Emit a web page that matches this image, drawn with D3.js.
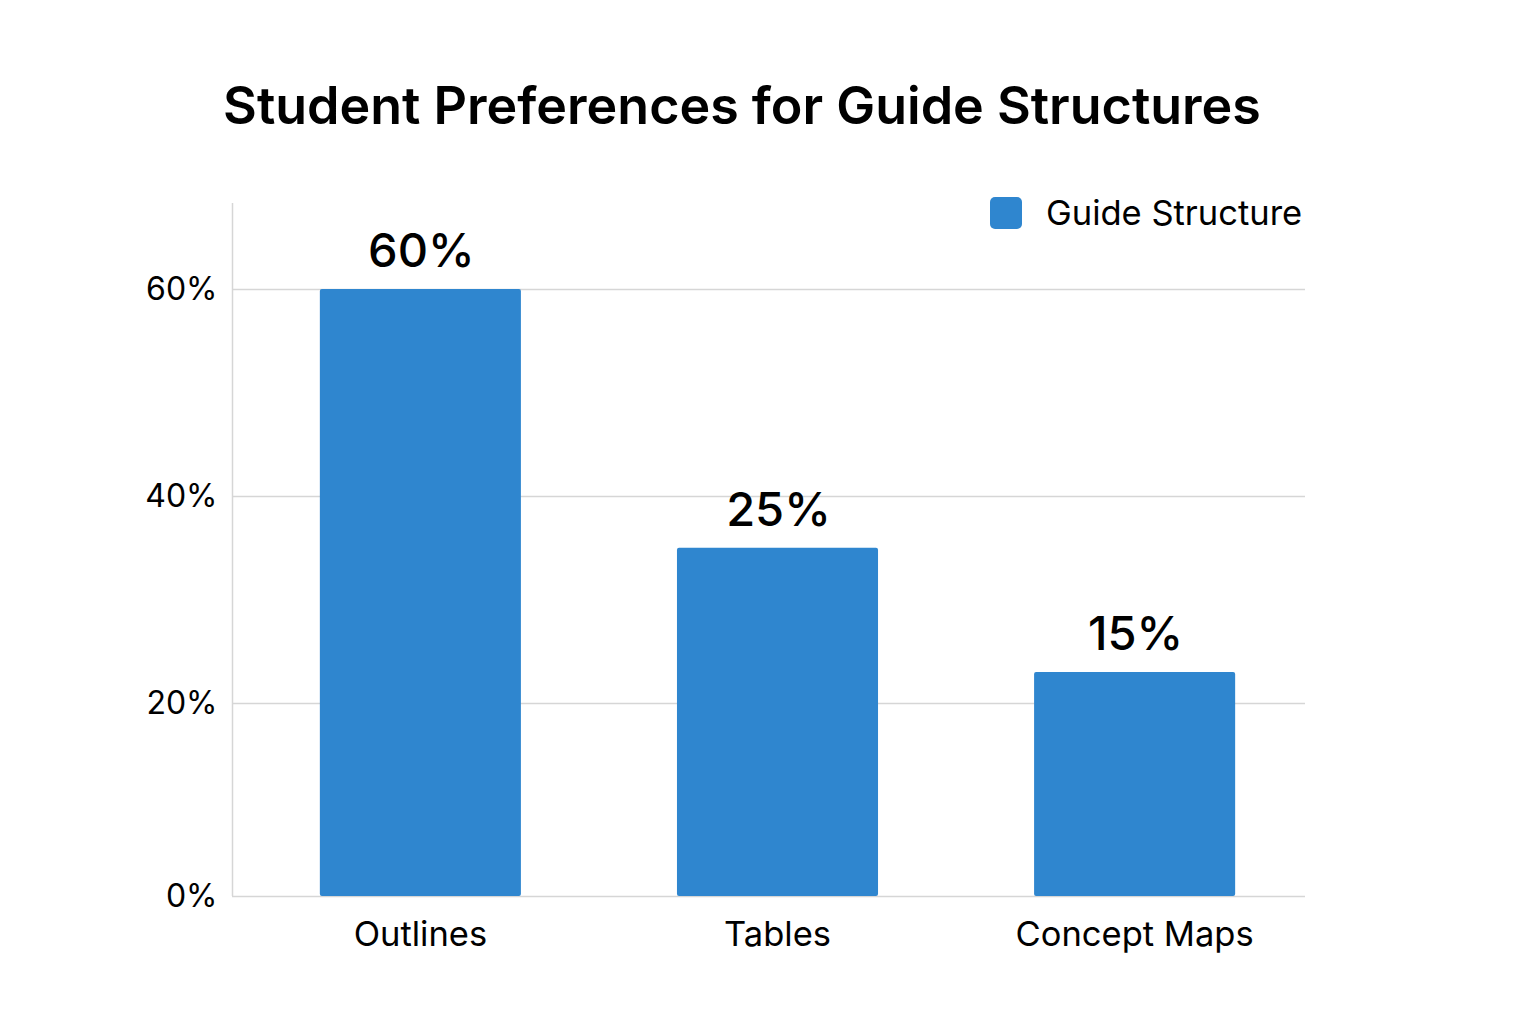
<!DOCTYPE html>
<html>
<head>
<meta charset="utf-8">
<script src="https://cdn.jsdelivr.net/npm/d3@7"></script>
<style>
  body { margin: 0; background: #fff; }
  text { font-family: Inter, "Noto Sans", sans-serif; fill: #000; }
</style>
</head>
<body>
<div id="chart"></div>
<script>
const categories = ["Outlines", "Tables", "Concept Maps"];
// bar heights as drawn in the picture
const values = [60, 35, 23];
// labels printed above the bars
const valueLabels = ["60%", "25%", "15%"];
const yTicks = [0, 20, 40, 60];
const seriesName = "Guide Structure";
const title = "Student Preferences for Guide Structures";

const width = 1536;
const height = 1024;
const barColor = "#2f86cf";

const svg = d3.select("#chart")
  .append("svg")
  .attr("width", width)
  .attr("height", height);

const x = d3.scaleBand()
  .domain(categories)
  .range([232, 1323])
  .paddingInner(0.437)
  .paddingOuter(0.246);

// the picture's axis is not evenly spaced
const y = d3.scaleLinear()
  .domain([0, 20, 40, 60])
  .range([896, 703, 496, 289]);

svg.append("text")
  .attr("x", 742)
  .attr("y", 124)
  .attr("text-anchor", "middle")
  .attr("font-size", 52)
  .attr("font-weight", 600)
  .text(title);

// gridlines
svg.append("g")
  .selectAll("line")
  .data(yTicks)
  .join("line")
  .attr("x1", 232)
  .attr("x2", 1305)
  .attr("y1", d => Math.round(y(d)) + 0.5)
  .attr("y2", d => Math.round(y(d)) + 0.5)
  .attr("stroke", "#d6d6d6")
  .attr("stroke-width", 1.5);

const yAxis = d3.axisLeft(y)
  .tickValues(yTicks)
  .tickFormat(d => d + "%")
  .tickSize(0)
  .tickPadding(15);

const yg = svg.append("g")
  .attr("transform", "translate(232.5,0)")
  .call(yAxis);
yg.select(".domain").remove();
yg.selectAll("text")
  .attr("font-size", 32)
  .attr("font-family", "Inter, sans-serif")
  .attr("fill", "#000");

svg.append("line")
  .attr("x1", 232.5)
  .attr("x2", 232.5)
  .attr("y1", 203)
  .attr("y2", 896)
  .attr("stroke", "#d6d6d6")
  .attr("stroke-width", 1.5);

const xAxis = d3.axisBottom(x).tickSize(0).tickPadding(26);
const xg = svg.append("g")
  .attr("transform", "translate(0,896)")
  .call(xAxis);
xg.select(".domain").remove();
xg.selectAll("text")
  .attr("font-size", 34.5)
  .attr("font-family", "Inter, sans-serif")
  .attr("fill", "#000");

svg.append("g")
  .selectAll("rect")
  .data(values)
  .join("rect")
  .attr("x", (d, i) => x(categories[i]))
  .attr("y", d => y(d))
  .attr("width", x.bandwidth())
  .attr("height", d => y(0) - y(d))
  .attr("rx", 2)
  .attr("fill", barColor);

svg.append("g")
  .selectAll("text")
  .data(values)
  .join("text")
  .attr("x", (d, i) => x(categories[i]) + x.bandwidth() / 2 + 1)
  .attr("y", d => y(d) - 22)
  .attr("text-anchor", "middle")
  .attr("font-size", 47)
  .attr("font-weight", 500)
  .text((d, i) => valueLabels[i]);

// legend
const legend = svg.append("g").attr("transform", "translate(990,197)");
legend.append("rect")
  .attr("width", 32)
  .attr("height", 32)
  .attr("rx", 5)
  .attr("fill", barColor);
legend.append("text")
  .attr("x", 56)
  .attr("y", 28)
  .attr("font-size", 34.5)
  .text(seriesName);
</script>
</body>
</html>
